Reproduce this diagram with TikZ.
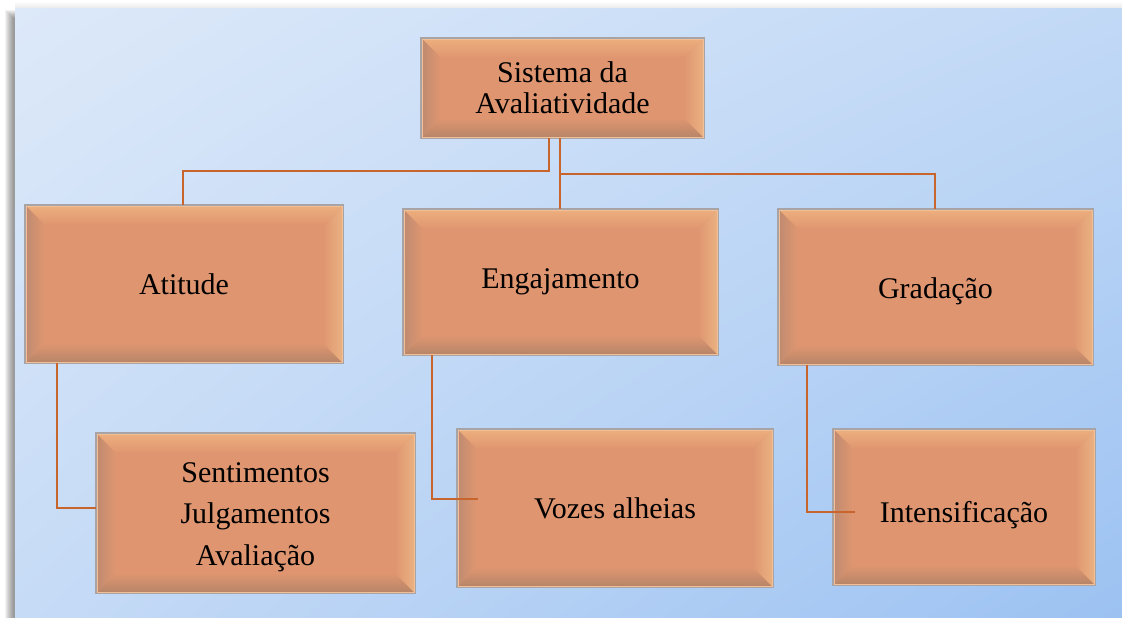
\documentclass[tikz,border=0pt]{standalone}
\usepackage{fontspec}
\setmainfont{Liberation Serif}
\usetikzlibrary{calc,shadings}
\definecolor{bgTL}{HTML}{DDE9F9}
\definecolor{bgTR}{HTML}{C2D9F6}
\definecolor{bgBL}{HTML}{C6DBF6}
\definecolor{bgBR}{HTML}{9CC2F2}
\definecolor{boxmain}{HTML}{DF9670}
\definecolor{bvtop}{HTML}{EEB07E}
\definecolor{bvright}{HTML}{EBB383}
\definecolor{bvleft}{HTML}{BE8A70}
\definecolor{bvbottom}{HTML}{B58468}
\definecolor{boxline}{HTML}{A8A4A6}
\definecolor{conn}{HTML}{C8652C}
\newlength\bw
\setlength\bw{15pt}
\tikzset{
  boxnode/.style={rectangle, fill=boxmain, inner sep=0pt, align=center,
    font=\fontsize{22.5}{31}\selectfont, text=black},
  connline/.style={draw=conn, line width=1.6pt},
}
% [#1] text options, #2 name, #3 x1, #4 y1, #5 x2, #6 y2, #7 text
\newcommand\bevbox[7][]{%
  \node[boxnode, minimum width={(#5-#3)*0.75pt}, minimum height={(#6-#4)*0.75pt}]
    (#2) at ({(#3+#5)/2},{(#4+#6)/2}) {};
  \shade[top color=bvtop, bottom color=boxmain]
    (#2.north west) -- (#2.north east) -- ([xshift=-\bw,yshift=-\bw]#2.north east)
    -- ([xshift=\bw,yshift=-\bw]#2.north west) -- cycle;
  \shade[top color=boxmain, bottom color=bvbottom]
    (#2.south west) -- (#2.south east) -- ([xshift=-\bw,yshift=\bw]#2.south east)
    -- ([xshift=\bw,yshift=\bw]#2.south west) -- cycle;
  \shade[left color=bvleft, right color=boxmain]
    (#2.north west) -- ([xshift=\bw,yshift=-\bw]#2.north west)
    -- ([xshift=\bw,yshift=\bw]#2.south west) -- (#2.south west) -- cycle;
  \shade[left color=boxmain, right color=bvright]
    (#2.north east) -- ([xshift=-\bw,yshift=-\bw]#2.north east)
    -- ([xshift=-\bw,yshift=\bw]#2.south east) -- (#2.south east) -- cycle;
  \draw[boxline, line width=1.2pt] (#2.north west) rectangle (#2.south east);
  \draw[bvtop!80!white, line width=0.5pt] ([xshift=0.9pt,yshift=-0.9pt]#2.north west) rectangle ([xshift=-0.9pt,yshift=0.9pt]#2.south east);
  \node[boxnode, fill=none, #1] at (#2.center) {#7};
}
\begin{document}
\begin{tikzpicture}[x=0.75pt,y=-0.75pt]
\useasboundingbox (0,0) rectangle (1122,618);
% background page shadow
\fill[white] (0,0) rectangle (1122,618);
\foreach \i in {0,...,8} {
  \fill[black, opacity=0.05] ({5+\i},{10+\i}) rectangle (1122,618);
}
\foreach \i in {0,...,6} {
  \fill[black, opacity=0.012] (15,{2+\i}) rectangle (1122,618);
}
\shade[upper left=bgTL, upper right=bgTR, lower left=bgBL, lower right=bgBR]
  (15,8) rectangle (1122,618);
% boxes
\bevbox{root}{421}{38}{704}{138}{Sistema da\\[-8pt]Avaliatividade}
\bevbox{atitude}{25}{205}{343}{363}{Atitude}
\bevbox{engaj}{403}{209}{718}{355}{Engajamento}
\bevbox[yshift=-3pt]{grad}{778}{209}{1093}{365}{Gradação}
\bevbox[yshift=-3pt]{sent}{96}{433}{415}{593}{Sentimentos\\Julgamentos\\Avaliação}
\bevbox{vozes}{457}{429}{773}{587}{Vozes alheias}
\bevbox[yshift=-6pt]{intens}{833}{429}{1095}{585}{Intensificação}
% connectors
\coordinate (rL) at (549,138);
\coordinate (rR) at (560,138);
\draw[connline] (rL) |- (183,171) -- (atitude.north -| 183,0);
\draw[connline] (rR) -- (engaj.north -| rR);
\draw[connline] (560,174) -| (grad.north -| 935,0);
\draw[connline] (atitude.south -| 57,0) |- (sent.west |- 0,508);
\draw[connline] (engaj.south -| 432,0) |- ([xshift=16pt]vozes.west |- 0,499);
\draw[connline] (grad.south -| 807,0) |- ([xshift=17pt]intens.west |- 0,512);
\end{tikzpicture}
\end{document}
